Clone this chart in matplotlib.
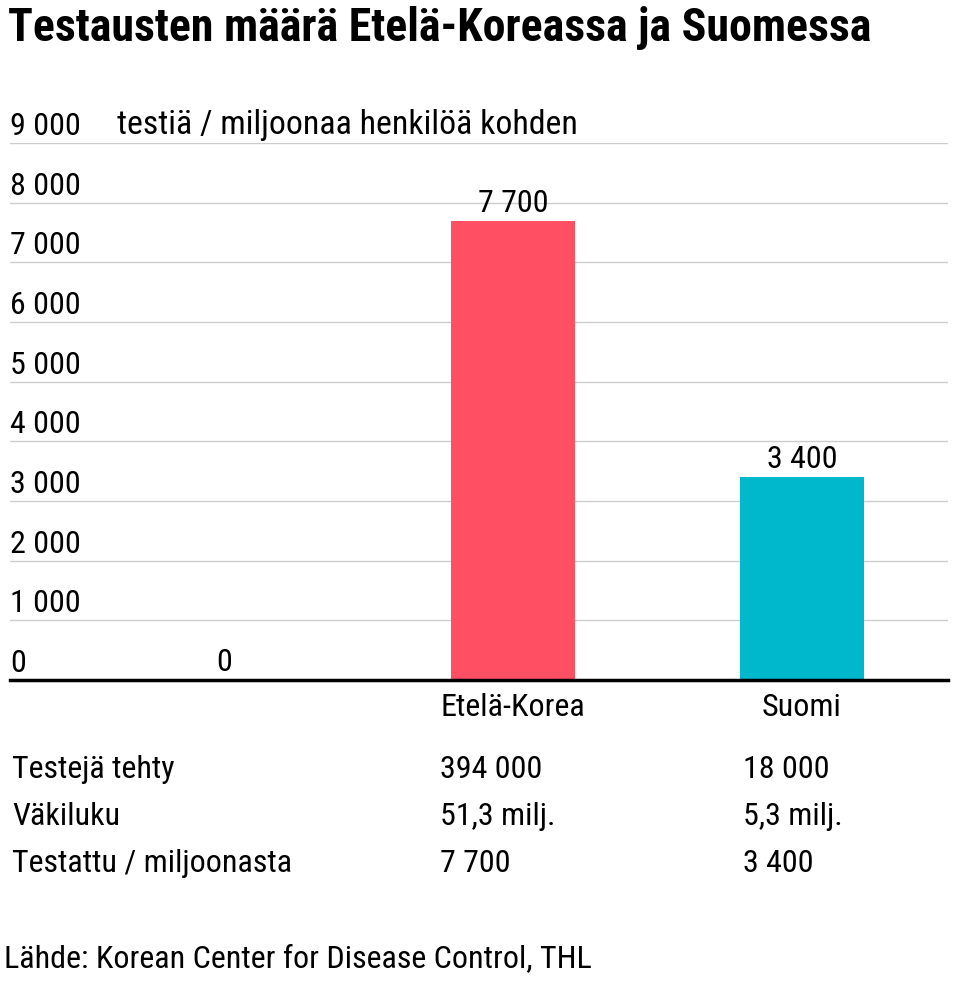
import matplotlib
matplotlib.use('Agg')
import matplotlib.pyplot as plt

plt.rcParams['font.family'] = ['Roboto Condensed', 'Roboto', 'DejaVu Sans']

categories = ['', 'Etelä-Korea', 'Suomi']
values = [0, 7700, 3400]
bar_colors = ['#ff4f62', '#ff4f62', '#00b8cc']
yticks = [0, 1000, 2000, 3000, 4000, 5000, 6000, 7000, 8000, 9000]

row_labels = ['Testejä tehty', 'Väkiluku', 'Testattu / miljoonasta']
korea_col = ['394 000', '51,3 milj.', '7 700']
suomi_col = ['18 000', '5,3 milj.', '3 400']

FS = 23


def fmt(v):
    return f'{v:,}'.replace(',', ' ')


W, H = 959, 983
fig = plt.figure(figsize=(W / 100, H / 100), dpi=100)
ax = fig.add_axes([10 / W, (H - 680) / H, 938 / W, 537 / H])

ax.bar(range(len(values)), values, width=0.43, color=bar_colors, zorder=2)
ax.set_xlim(-0.74, 2.505)
ax.set_ylim(0, 9000)

for v in yticks[1:]:
    ax.axhline(v, color='#cccccc', lw=1, zorder=1)
ax.axhline(0, color='black', lw=2.5, zorder=3, clip_on=False)

for s in ax.spines.values():
    s.set_visible(False)
ax.set_xticks([])
ax.set_yticks([])

# y tick labels sit on top of the grid lines
for v in yticks:
    ax.annotate(fmt(v), (0, v), xycoords=('axes fraction', 'data'),
                xytext=(0, 2), textcoords='offset pixels',
                ha='left', va='bottom', fontsize=FS)
ax.annotate('testiä / miljoonaa henkilöä kohden', (107 / 938, 9000),
            xycoords=('axes fraction', 'data'), xytext=(0, 2),
            textcoords='offset pixels', ha='left', va='bottom', fontsize=24.3)

# value labels
for i, v in enumerate(values):
    ax.annotate(fmt(v), (i, v), xytext=(0, 3), textcoords='offset pixels',
                ha='center', va='bottom', fontsize=FS)

# category labels
for i, c in enumerate(categories):
    ax.annotate(c, (i, 0), xytext=(0, -13), textcoords='offset pixels',
                ha='center', va='top', fontsize=FS)

# table under the chart
for r, (lab, k, s) in enumerate(zip(row_labels, korea_col, suomi_col)):
    y = 1 - (769 + r * 47.5) / H
    fig.text(12 / W, y, lab, ha='left', va='center', fontsize=FS)
    fig.text(440 / W, y, k, ha='left', va='center', fontsize=FS)
    fig.text(743 / W, y, s, ha='left', va='center', fontsize=FS)

fig.text(8 / W, 1 - 28 / H, 'Testausten määrä Etelä-Koreassa ja Suomessa',
         ha='left', va='center', fontsize=33, fontweight='bold')
fig.text(4 / W, 1 - 959 / H, 'Lähde: Korean Center for Disease Control, THL',
         ha='left', va='center', fontsize=FS)

fig.savefig('out.png', dpi=100)
